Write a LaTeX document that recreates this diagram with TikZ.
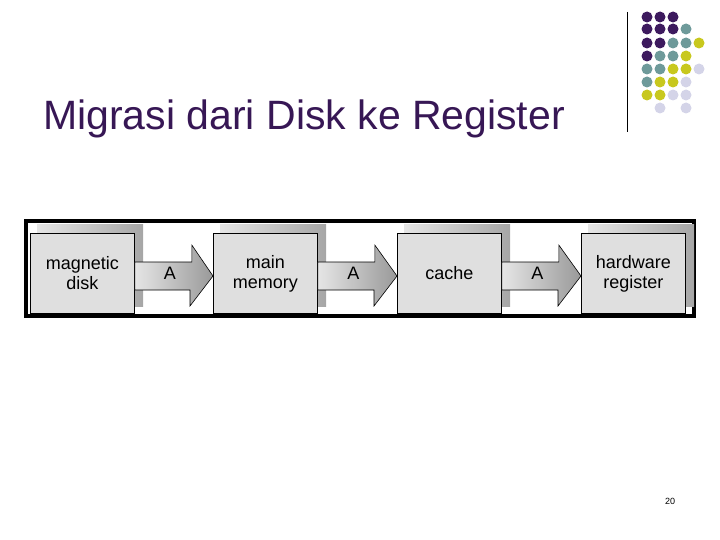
\documentclass[tikz,border=0pt]{standalone}
\usepackage{fontspec}
\setmainfont{Liberation Sans}
\usetikzlibrary{calc}
\begin{document}
\begin{tikzpicture}[x=1pt,y=-1pt,
  box/.style={draw=black,line width=0.8pt,fill=gray!25,minimum width=104pt,minimum height=80pt,inner sep=0pt,font=\fontsize{18}{20}\selectfont,align=center},
  dot/.style={circle,minimum size=11pt,inner sep=0pt}]
\useasboundingbox (0,0) rectangle (720,540);
\definecolor{P}{HTML}{3D1A5E}\definecolor{T}{HTML}{6E9A9A}
\definecolor{Y}{HTML}{C8C81E}\definecolor{L}{HTML}{D4D4E8}
\node[anchor=base west,inner sep=0pt,font=\fontsize{41}{46}\selectfont,text=P!90!black] (title) at (43,130) {Migrasi dari Disk ke Register};
\draw[line width=1pt] (627,12) -- (627,132);
\foreach \r/\cols in {17/{P,P,P},29/{P,P,P,T},43/{P,P,T,T,Y},56/{P,T,T,Y},69/{T,T,Y,Y,L},82/{T,Y,Y,L},95/{Y,Y,L,L}}{
  \foreach \c [count=\i] in \cols { \node[dot,fill=\c] at (634+13*\i,\r) {}; }}
\node[dot,fill=L] at (660,108) {};
\node[dot,fill=L] at (686,108) {};
\draw[line width=4pt] (26,221) rectangle (694,316);
\foreach \x/\t [count=\k] in {30/{magnetic\\disk},213/{main\\memory},397/{cache},581/{hardware\\register}}{
  \shade[left color=gray!20,right color=gray!70] (\x+7,225) rectangle (\x+113,306);
  \node[box,anchor=north west] (b\k) at (\x,233) {\t};
}
\foreach \a/\b in {b1/b2,b2/b3,b3/b4}{
  \shade[left color=gray!20,right color=gray!80,draw=black,line width=0.6pt]
    (\a.east |- 0,262) -- ++(57,0) -- ++(0,-17) -- (\b.west |- 0,276) -- ++(-23,30) -- ++(0,-16) -- (\a.east |- 0,290) -- cycle;
  \node[font=\fontsize{18}{20}\selectfont] at ($(\a.east)!0.45!(\b.west)$) {A};
}
\node[font=\fontsize{9}{10}\selectfont] (pg) at (670,501) {20};
\end{tikzpicture}
\end{document}
